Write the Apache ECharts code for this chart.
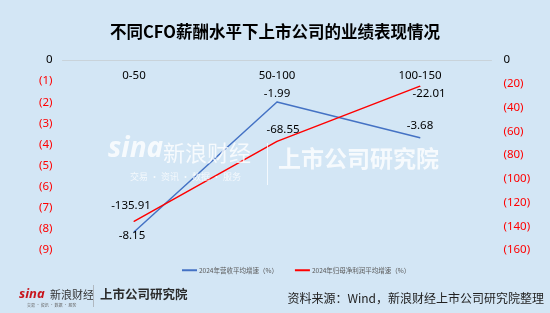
<!DOCTYPE html>
<html><head><meta charset="utf-8">
<script src="https://cdn.jsdelivr.net/npm/echarts@6/dist/echarts.min.js"></script>
<style>html,body{margin:0;padding:0;background:#d3e6f5;}#c{width:550px;height:313px;}</style>
</head><body><div id="c"></div>
<script>
const categories = ['0-50', '50-100', '100-150'];
const revenueGrowth = [-8.15, -1.99, -3.68];
const profitGrowth = [-135.91, -68.55, -22.01];
const seriesNames = ['2024年营收平均增速（%）', '2024年归母净利润平均增速（%）'];
const titleText = '不同CFO薪酬水平下上市公司的业绩表现情况';
const sourceText = '资料来源：Wind，新浪财经上市公司研究院整理';

const revOffsets = [[-2, 4], [0, -8], [0, -12]];
const profOffsets = [[-3, -16], [6, -12], [9, 8]];
const FONT = '"Noto Sans", "Noto Sans CJK SC", sans-serif';

const chart = echarts.init(document.getElementById('c'));
const negFmt = v => Number(v) === 0 ? '{z|0}' : '{r|(' + (-Number(v)) + ')}';
const axisRich = {
  z: { color: '#000000', fontSize: 11.5, fontFamily: FONT },
  r: { color: '#ff0000', fontSize: 11.5, fontFamily: FONT }
};

chart.setOption({
  backgroundColor: '#d3e6f5',
  animation: false,
  title: {
    text: titleText, left: 'center', top: 18,
    textStyle: { fontSize: 16.5, fontWeight: 'bold', color: '#000', fontFamily: '"Noto Sans CJK SC", sans-serif' }
  },
  legend: {
    left: 177, top: 262, itemWidth: 15, itemHeight: 2, itemGap: 17, icon: 'rect',
    textStyle: { fontSize: 6.5, color: '#595959', fontFamily: '"Noto Sans CJK SC", sans-serif', padding: [0, 0, 0, -3] },
    data: seriesNames
  },
  grid: { left: 62.5, right: 58.5, top: 60, bottom: 63, containLabel: false },
  xAxis: {
    type: 'category', data: categories, position: 'top', boundaryGap: true,
    axisLine: { show: true, onZero: false, lineStyle: { color: '#c9d3da', width: 1 } },
    axisTick: { show: false },
    axisLabel: { inside: true, margin: 10, color: '#000', fontSize: 11.5, fontFamily: FONT }
  },
  yAxis: [
    {
      type: 'value', min: -9, max: 0, interval: 1, position: 'left',
      splitLine: { show: false }, axisLine: { show: false }, axisTick: { show: false },
      axisLabel: { margin: 10, formatter: negFmt, rich: axisRich }
    },
    {
      type: 'value', min: -160, max: 0, interval: 20, position: 'right',
      splitLine: { show: false }, axisLine: { show: false }, axisTick: { show: false },
      axisLabel: { margin: 12, formatter: negFmt, rich: axisRich }
    }
  ],
  series: [
    {
      name: seriesNames[0], type: 'line', yAxisIndex: 0,
      symbol: 'circle', symbolSize: 1, showSymbol: true,
      lineStyle: { color: '#4472c4', width: 1.5 }, itemStyle: { color: '#4472c4' },
      data: revenueGrowth.map((v, i) => ({ value: v, label: { offset: revOffsets[i] } })),
      label: { show: true, position: 'inside', color: '#000', fontSize: 11.5, fontFamily: FONT },
      z: 3
    },
    {
      name: seriesNames[1], type: 'line', yAxisIndex: 1,
      symbol: 'circle', symbolSize: 1, showSymbol: true,
      lineStyle: { color: '#ff0000', width: 1.5 }, itemStyle: { color: '#ff0000' },
      data: profitGrowth.map((v, i) => ({ value: v, label: { offset: profOffsets[i] } })),
      label: { show: true, position: 'inside', color: '#000', fontSize: 11.5, fontFamily: FONT },
      z: 4
    }
  ],
  graphic: [
    { type: 'text', left: 108, top: 135, z: 10, style: { text: 'sina', fill: 'rgba(255,255,255,0.8)', font: 'bold italic 28px "Noto Sans", sans-serif' } },
    { type: 'text', left: 163, top: 142, z: 10, style: { text: '新浪财经', fill: 'rgba(255,255,255,0.8)', font: '22px "Noto Sans CJK SC", sans-serif' } },
    { type: 'text', left: 130, top: 172, z: 10, style: { text: '交易 · 资讯 · 数据 · 服务', fill: 'rgba(255,255,255,0.75)', font: '9px "Noto Sans CJK SC", sans-serif' } },
    { type: 'rect', shape: { x: 267, y: 143, width: 1, height: 42 }, z: 10, style: { fill: 'rgba(255,255,255,0.75)' } },
    { type: 'text', left: 278, top: 147, z: 10, style: { text: '上市公司研究院', fill: 'rgba(255,255,255,0.8)', font: 'bold 23px "Noto Sans CJK SC", sans-serif' } },
    { type: 'text', left: 19, top: 288, style: { text: 'sina', fill: '#c8161d', font: 'bold italic 13px "Noto Sans", sans-serif' } },
    { type: 'text', left: 50, top: 289, style: { text: '新浪财经', fill: '#333', font: '11px "Noto Sans CJK SC", sans-serif' } },
    { type: 'text', left: 27, top: 303, style: { text: '交易 · 资讯 · 数据 · 服务', fill: '#666', font: '4px "Noto Sans CJK SC", sans-serif' } },
    { type: 'rect', shape: { x: 93, y: 285, width: 1, height: 22 }, style: { fill: '#b0b8c0' } },
    { type: 'text', left: 100, top: 288, style: { text: '上市公司研究院', fill: '#2b2b2b', font: 'bold 12.5px "Noto Sans CJK SC", sans-serif' } },
    { type: 'text', right: 6, top: 292, style: { text: sourceText, fill: '#222', font: '12px "Noto Sans CJK SC", sans-serif' } }
  ]
});
</script></body></html>
